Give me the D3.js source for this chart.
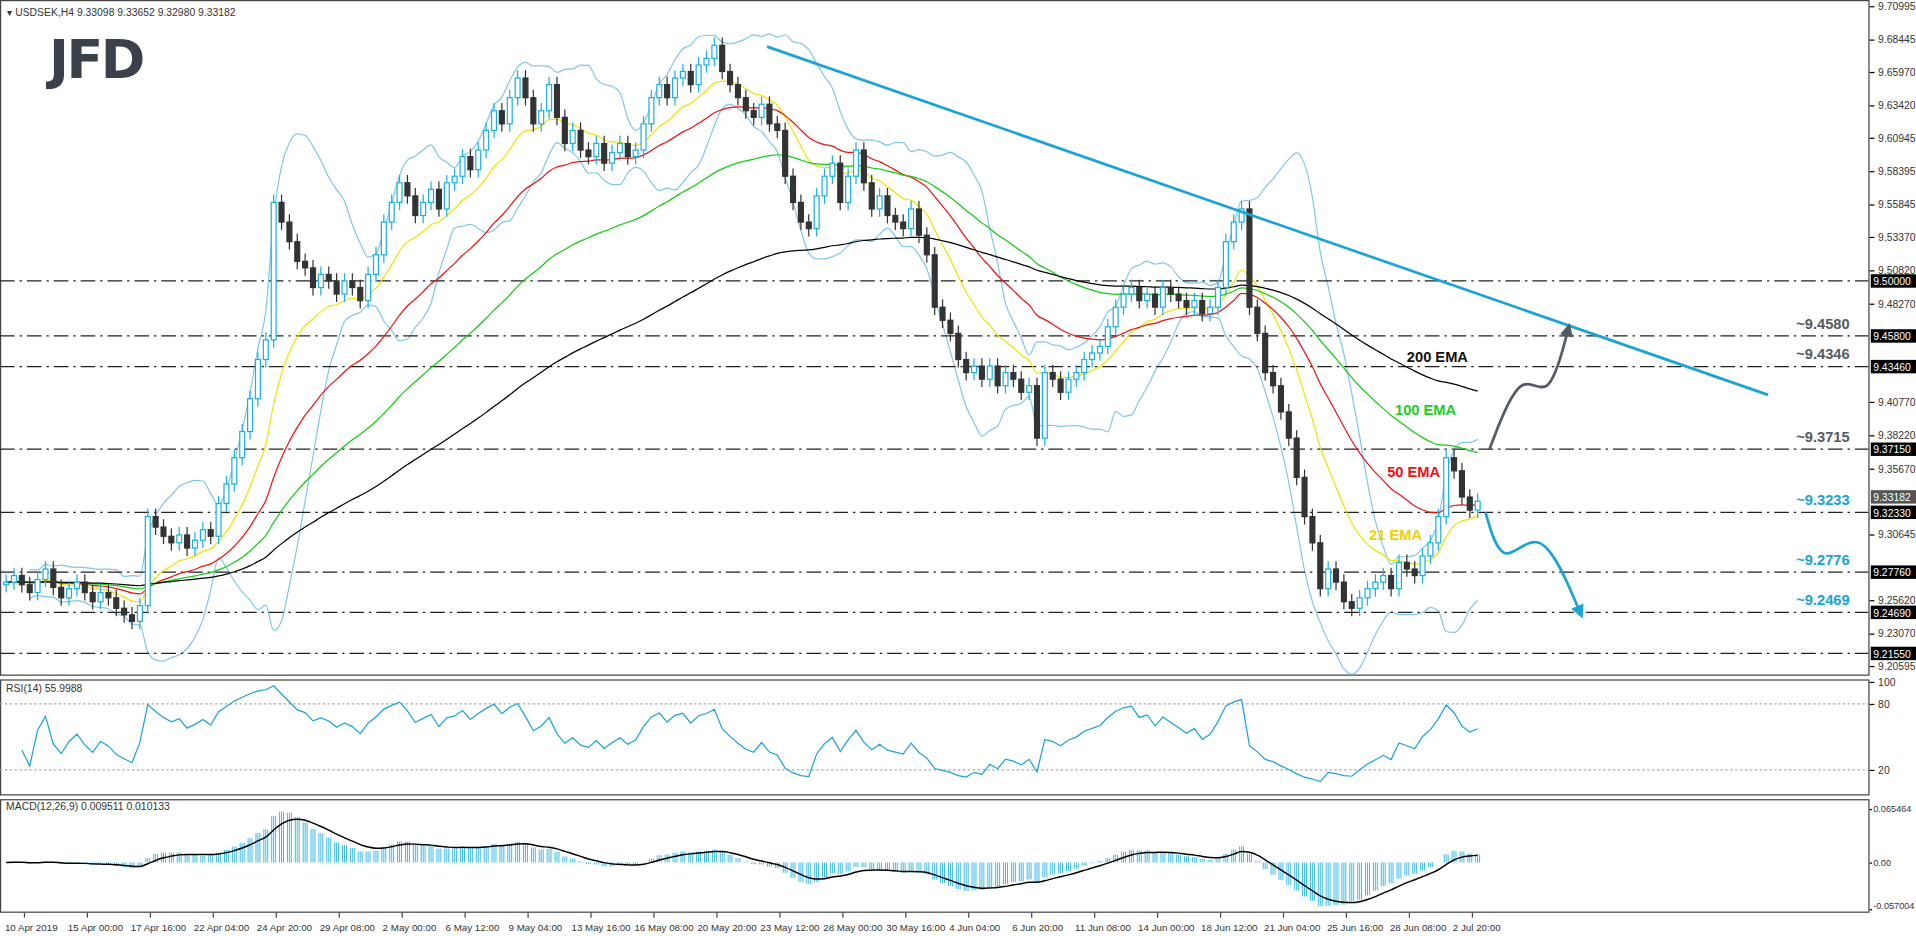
<!DOCTYPE html>
<html><head><meta charset="utf-8">
<script src="https://cdn.jsdelivr.net/npm/d3@7/dist/d3.min.js"></script>
<style>body{margin:0;background:#fff}svg{display:block;font-family:"Liberation Sans",Arial,sans-serif}</style>
</head><body><svg id="c" width="1916" height="936"></svg>
<script>
const closes=[9.270,9.275,9.268,9.262,9.272,9.280,9.266,9.258,9.265,9.270,9.262,9.255,9.262,9.258,9.250,9.245,9.240,9.252,
9.320,9.312,9.305,9.300,9.306,9.296,9.302,9.310,9.305,
9.330,9.345,9.365,9.385,9.410,9.440,9.455,
9.560,9.545,9.530,
9.515,9.510,9.495,9.505,9.500,9.490,9.500,9.495,9.485,9.505,
9.520,9.545,9.560,9.575,9.565,9.550,9.560,9.570,
9.555,9.575,9.580,9.595,9.585,9.600,9.615,9.630,9.620,9.640,
9.655,9.640,9.620,9.630,9.650,9.625,9.605,9.615,
9.600,9.595,9.605,9.590,9.598,9.605,9.595,9.600,9.620,
9.640,9.650,9.640,9.655,9.660,9.650,9.665,9.670,9.680,
9.660,9.650,9.640,9.630,9.625,9.635,9.620,9.615,
9.580,9.560,9.545,9.540,
9.565,9.580,9.590,9.560,9.580,9.600,9.575,9.555,9.565,
9.550,9.545,9.540,9.555,9.535,9.520,
9.480,9.470,9.460,9.440,9.430,
9.435,9.425,9.435,9.420,9.430,9.425,9.415,9.420,9.380,
9.430,9.425,9.415,9.425,9.430,9.440,9.445,9.450,
9.465,9.480,9.490,9.495,9.485,9.490,9.480,9.495,
9.490,9.485,9.480,9.485,9.475,9.480,9.495,
9.530,9.545,9.555,
9.480,9.460,9.430,9.420,9.400,9.380,9.350,9.320,9.300,
9.265,9.280,9.270,9.255,9.250,9.258,9.265,9.270,
9.275,9.265,9.285,9.280,9.275,9.290,9.300,9.320,
9.365,9.355,9.335,9.325,9.33182];
const firstOpen=9.268;
const dateLabels=["10 Apr 2019","15 Apr 00:00","17 Apr 16:00","22 Apr 04:00","24 Apr 20:00","29 Apr 08:00","2 May 00:00","6 May 12:00","9 May 04:00","13 May 16:00","16 May 08:00","20 May 20:00","23 May 12:00","28 May 00:00","30 May 16:00","4 Jun 04:00","6 Jun 20:00","11 Jun 08:00","14 Jun 00:00","18 Jun 12:00","21 Jun 04:00","25 Jun 16:00","28 Jun 08:00","2 Jul 20:00"];
const priceTicks=[9.70995,9.68445,9.65970,9.63420,9.60945,9.58395,9.55845,9.53370,9.50820,9.48270,9.45720,9.43245,9.40770,9.38220,9.35670,9.33120,9.30645,9.28095,9.25620,9.23070,9.20595];
const levels=[9.50000,9.45800,9.43460,9.37150,9.32330,9.27760,9.24690,9.21550];
const lastPrice=9.33182;
const levelNotes=[{v:9.4580,t:"~9.4580",c:"#555b63"},{v:9.4346,t:"~9.4346",c:"#555b63"},{v:9.3715,t:"~9.3715",c:"#555b63"},{v:9.3233,t:"~9.3233",c:"#1aa3d8"},{v:9.2776,t:"~9.2776",c:"#1aa3d8"},{v:9.2469,t:"~9.2469",c:"#1aa3d8"}];
const trend=[{i:96.7,p:9.679},{i:223.9,p:9.413}];
const greyPath=[{i:188.5,p:9.3715},{i:192.5,p:9.4346},{i:196,p:9.406},{i:198.5,p:9.463}];
const bluePath=[{i:188,p:9.3233},{i:190.2,p:9.2776},{i:195,p:9.318},{i:200,p:9.2469}];
const emaNotes=[{t:"200 EMA",c:"#111",i:178,p:9.438},{t:"100 EMA",c:"#22cc22",i:176.5,p:9.398},{t:"50 EMA",c:"#ee1111",i:175.5,p:9.350},{t:"21 EMA",c:"#f0d000",i:173.2,p:9.302}];

const root=d3.select("#c");
const svg=root.append("g").attr("transform",`scale(${1916/1568})`);
const W=1529;
const x=d3.scaleLinear().domain([0,1]).range([5,11.44]);
const y=d3.scaleLinear().domain([9.70995,9.20595]).range([5,545]);
const opens=closes.map((c,i)=>i?closes[i-1]:firstOpen);
const FS=8.5;

function ema(a,p){const k=2/(p+1);let r=[],e=a[0];a.forEach((v,i)=>{e=i?v*k+e*(1-k):v;r.push(e)});return r;}
svg.append("rect").attr("x",0.5).attr("y",0.5).attr("width",W).attr("height",552).attr("fill","none").attr("stroke","#444");
svg.append("rect").attr("x",0.5).attr("y",556.5).attr("width",W).attr("height",94).attr("fill","none").attr("stroke","#444");
svg.append("rect").attr("x",0.5).attr("y",654.5).attr("width",W).attr("height",92).attr("fill","none").attr("stroke","#444");

svg.append("text").attr("x",6).attr("y",13).attr("font-size",FS).attr("fill","#333").text("▾ USDSEK,H4  9.33098 9.33652 9.32980 9.33182");
svg.append("text").attr("x",40).attr("y",64).attr("font-size",44).attr("font-weight","bold").attr("fill","#3b414a").attr("font-family","DejaVu Sans").attr("letter-spacing","-2").text("JFD");

const boxed=levels.concat([lastPrice]);
const ax=svg.append("g").attr("transform","translate(1530,0)");
ax.call(d3.axisRight(y).tickValues(priceTicks.filter(t=>boxed.every(b=>Math.abs(y(t)-y(b))>8))).tickSize(4).tickFormat(d3.format(".5f")));
ax.select(".domain").remove();
ax.selectAll("text").attr("font-size",FS).attr("fill","#333");

const bp=10,bb=closes.map((c,i)=>{const s=closes.slice(Math.max(0,i-bp+1),i+1);const m=d3.mean(s),sd=d3.deviation(s)||0;return {m,u:m+2*sd,l:m-2*sd}});
const line=(arr,off=0)=>d3.line().x((d,i)=>x(i+off)).y(d=>y(d)).curve(d3.curveMonotoneX)(arr);
[bb.map(d=>d.u),bb.map(d=>d.l)].forEach(a=>svg.append("path").attr("d",line(a.slice(3),3)).attr("fill","none").attr("stroke","#80c6ec").attr("stroke-width",1));

levels.forEach(v=>{svg.append("line").attr("x1",0).attr("x2",W).attr("y1",y(v)).attr("y2",y(v)).attr("stroke","#222").attr("stroke-dasharray","12,4,2,4");
 svg.append("rect").attr("x",1531).attr("y",y(v)-5.5).attr("width",37).attr("height",11).attr("fill","#000");
 svg.append("text").attr("x",1533).attr("y",y(v)+3.5).attr("font-size",FS).attr("fill","#fff").text(v.toFixed(5));});
svg.append("rect").attr("x",1531).attr("y",y(lastPrice)-9).attr("width",37).attr("height",11).attr("fill","#555");
svg.append("text").attr("x",1533).attr("y",y(lastPrice)).attr("font-size",FS).attr("fill","#fff").text(lastPrice.toFixed(5));

[[11,"#f2e200"],[25,"#ee1111"],[50,"#11cc11"],[100,"#000"]].forEach(([p,c])=>svg.append("path").attr("d",line(ema(closes,p))).attr("fill","none").attr("stroke",c).attr("stroke-width",1));

const cg=svg.append("g");
closes.forEach((c,i)=>{const o=opens[i],hi=Math.max(o,c)+0.006,lo=Math.min(o,c)-0.006,up=c>=o;
 cg.append("line").attr("x1",x(i)).attr("x2",x(i)).attr("y1",y(hi)).attr("y2",y(lo)).attr("stroke",up?"#1ab0e0":"#333");
 cg.append("rect").attr("x",x(i)-2).attr("width",4).attr("y",y(Math.max(o,c))).attr("height",Math.max(1,y(Math.min(o,c))-y(Math.max(o,c)))).attr("fill",up?"#fff":"#333").attr("stroke",up?"#1ab0e0":"#333").attr("stroke-width",1);});

svg.append("line").attr("x1",x(trend[0].i)).attr("y1",y(trend[0].p)).attr("x2",x(trend[1].i)).attr("y2",y(trend[1].p)).attr("stroke","#1aa3d8").attr("stroke-width",2.2);

const defs=root.append("defs");
[["ag","#555b63"],["ab","#1aa3d8"]].forEach(([id,c])=>defs.append("marker").attr("id",id).attr("viewBox","0 0 10 10").attr("refX",5).attr("refY",5).attr("markerWidth",5).attr("markerHeight",5).attr("orient","auto").append("path").attr("d","M0,0L10,5L0,10z").attr("fill",c));
const cl=d3.line().x(d=>x(d.i)).y(d=>y(d.p)).curve(d3.curveBasis);
svg.append("path").attr("d",cl(greyPath)).attr("fill","none").attr("stroke","#555b63").attr("stroke-width",2.2).attr("marker-end","url(#ag)");
svg.append("path").attr("d",cl(bluePath)).attr("fill","none").attr("stroke","#1aa3d8").attr("stroke-width",2.2).attr("marker-end","url(#ab)");

levelNotes.forEach(d=>svg.append("text").attr("x",1470).attr("y",y(d.v)-6).attr("font-size",12).attr("font-weight","bold").attr("fill",d.c).text(d.t));
emaNotes.forEach(d=>svg.append("text").attr("x",x(d.i)).attr("y",y(d.p)).attr("font-size",12).attr("font-weight","bold").attr("fill",d.c).text(d.t));

const rp=7;let ag=0,al=0;const rsi=[];
closes.forEach((c,i)=>{if(!i){rsi.push(50);return}const ch=c-closes[i-1];ag=(ag*(rp-1)+Math.max(ch,0))/rp;al=(al*(rp-1)+Math.max(-ch,0))/rp;rsi.push(al===0?100:100-100/(1+ag/al));});
const yr=d3.scaleLinear().domain([0,100]).range([648,558]);
[80,20].forEach(v=>{svg.append("line").attr("x1",0).attr("x2",W).attr("y1",yr(v)).attr("y2",yr(v)).attr("stroke","#aaa").attr("stroke-dasharray","2,2");});
const ra=svg.append("g").attr("transform","translate(1530,0)").call(d3.axisRight(yr).tickValues([100,80,20]).tickSize(4));
ra.select(".domain").remove();ra.selectAll("text").attr("font-size",FS).attr("fill","#333");
svg.append("path").attr("d",d3.line().x((d,i)=>x(i+2)).y(d=>yr(d))(rsi.slice(2))).attr("fill","none").attr("stroke","#1aa3d8").attr("stroke-width",1);
svg.append("text").attr("x",5).attr("y",566).attr("font-size",FS).attr("fill","#333").text("RSI(14) 55.9988");

const e1=ema(closes,6),e2=ema(closes,13),macd=e1.map((v,i)=>v-e2[i]),sig=ema(macd,5);
const ym=d3.scaleLinear().domain([-0.057004,0.065464]).range([744,662]);
const ma=svg.append("g").attr("transform","translate(1530,0)").call(d3.axisRight(ym).tickValues([0.065464,0,-0.057004]).tickSize(2).tickPadding(1).tickFormat(d=>d===0?"0.00":d.toFixed(6)));
ma.select(".domain").remove();ma.selectAll("text").attr("font-size",7.5).attr("fill","#333");
ma.selectAll(".tick").filter(d=>d<0).select("text").attr("dy","-0.1em");
macd.forEach((v,i)=>{[-1.6,0,1.6].forEach(dx=>svg.append("line").attr("x1",x(i)+dx).attr("x2",x(i)+dx).attr("y1",ym(0)).attr("y2",ym(v)).attr("stroke","#1ab0e0").attr("stroke-width",0.7));});
svg.append("path").attr("d",d3.line().x((d,i)=>x(i)).y(d=>ym(d)).curve(d3.curveMonotoneX)(sig)).attr("fill","none").attr("stroke","#000").attr("stroke-width",1.2);
svg.append("text").attr("x",5).attr("y",663).attr("font-size",FS).attr("fill","#333").text("MACD(12,26,9) 0.009511 0.010133");

const ta=svg.append("g");
dateLabels.forEach((t,k)=>{const xi=x(2.33+8*k);ta.append("line").attr("x1",xi).attr("x2",xi).attr("y1",747).attr("y2",751).attr("stroke","#444");
 ta.append("text").attr("x",xi-16).attr("y",762).attr("font-size",8).attr("fill","#333").text(t);});
</script></body></html>
